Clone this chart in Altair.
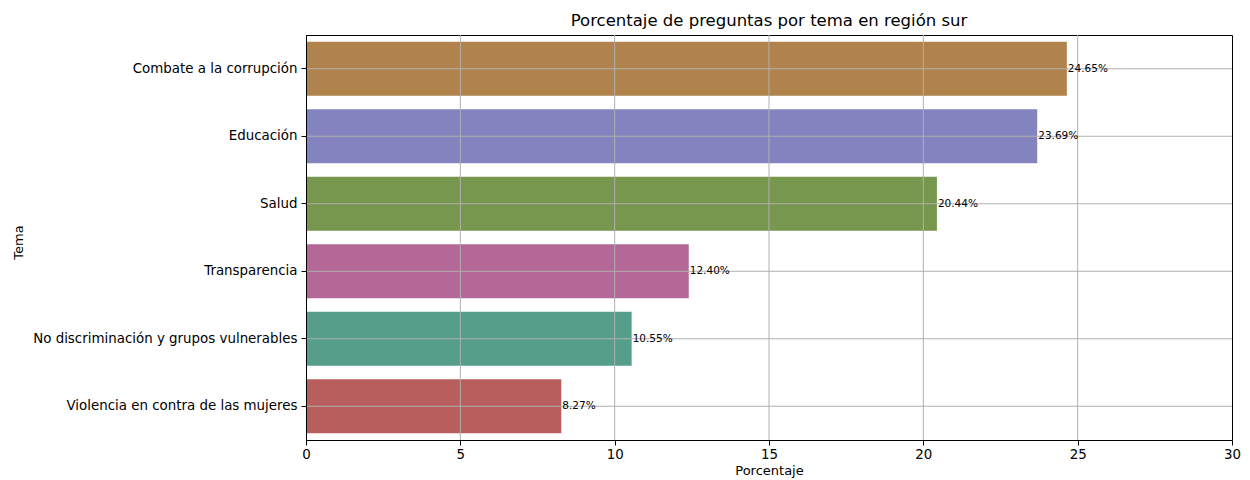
import altair as alt
import pandas as pd

temas = [
    "Combate a la corrupción",
    "Educación",
    "Salud",
    "Transparencia",
    "No discriminación y grupos vulnerables",
    "Violencia en contra de las mujeres",
]
porcentajes = [24.65, 23.69, 20.44, 12.40, 10.55, 8.27]
colores = ["#B0834D", "#8383C0", "#77964E", "#B36897", "#549E8A", "#B85E5C"]
ticks_x = [0, 5, 10, 15, 20, 25, 30]
grid_x = [5, 10, 15, 20, 25]

df = pd.DataFrame({"Tema": temas, "Porcentaje": porcentajes})
df["etiqueta"] = [f"{v:.2f}%" for v in porcentajes]
df_grid = pd.DataFrame({"g": grid_x})

font = "DejaVu Sans"
GRID = "#b0b0b0"

y_enc = alt.Y(
    "Tema:N",
    sort=temas,
    scale=alt.Scale(paddingInner=0.2, paddingOuter=0.1),
    axis=alt.Axis(
        title="Tema",
        titleFontSize=13,
        titleFontWeight="normal",
        titleColor="black",
        titleAngle=270,
        titleX=-288,
        titleY=207,
        titleAlign="center",
        titleBaseline="middle",
        labelFontSize=13.4,
        labelColor="black",
        labelPadding=4,
        labelLimit=400,
        tickColor="black",
        tickSize=5,
        domain=True,
        domainColor="black",
        grid=False,
        bandPosition=0.5,
        zindex=2,
        labelFont=font,
        titleFont=font,
    ),
)

x_enc = alt.X(
    "Porcentaje:Q",
    scale=alt.Scale(domain=[0, 30], nice=False),
    axis=alt.Axis(
        title="Porcentaje",
        values=ticks_x,
        titleFontSize=13,
        titleFontWeight="normal",
        titleColor="black",
        titlePadding=4,
        labelFontSize=13.4,
        labelColor="black",
        labelPadding=2,
        labelFlush=False,
        tickColor="black",
        tickSize=5,
        domain=True,
        domainColor="black",
        grid=False,
        zindex=2,
        labelFont=font,
        titleFont=font,
    ),
)

bars = alt.Chart(df).mark_bar().encode(
    x=x_enc,
    y=y_enc,
    color=alt.Color("Tema:N", scale=alt.Scale(domain=temas, range=colores), legend=None),
)

vgrid = alt.Chart(df_grid).mark_rule(color=GRID, strokeWidth=1).encode(
    x=alt.X("g:Q")
)

hgrid = alt.Chart(df).mark_rule(color=GRID, strokeWidth=1).encode(
    y=alt.Y("Tema:N", sort=temas)
)

text = alt.Chart(df).mark_text(
    align="left", baseline="middle", dx=1, fontSize=10.5, font=font, color="black"
).encode(
    x=alt.X("Porcentaje:Q"),
    y=alt.Y("Tema:N", sort=temas),
    text="etiqueta:N",
)

chart = (
    alt.layer(bars, vgrid, hgrid, text)
    .properties(
        width=926,
        height=405,
        background="white",
        title=alt.TitleParams(
            "Porcentaje de preguntas por tema en región sur",
            fontSize=16.5,
            fontWeight="normal",
            font=font,
            color="black",
            anchor="middle",
            offset=5,
        ),
        autosize=alt.AutoSizeParams(type="none"),
        padding={"left": 298, "top": 27, "right": 10, "bottom": 40},
    )
    .configure_view(stroke="black", strokeWidth=1)
)

chart.save("out.html", embed_options={"renderer": "svg", "actions": False})
